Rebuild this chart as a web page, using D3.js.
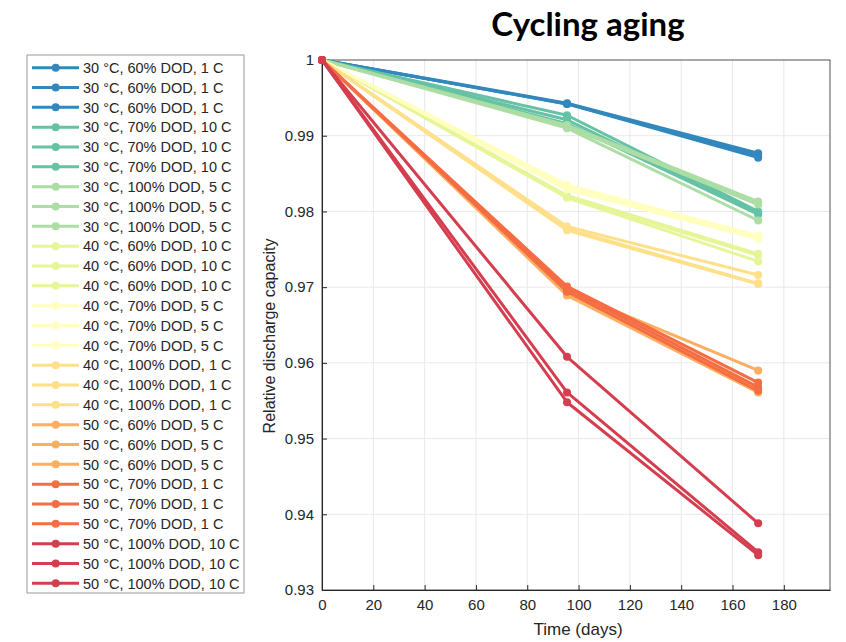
<!DOCTYPE html>
<html><head><meta charset="utf-8">
<script src="https://cdn.jsdelivr.net/npm/d3@7"></script>
<style>body{margin:0;background:#fff;}svg{display:block;}</style>
</head><body>
<svg id="c" width="846" height="642"></svg>
<script>
// ---- data ----
const days = [0, 95.5, 170];
const labels = [
  "30 °C, 60% DOD, 1 C","30 °C, 60% DOD, 1 C","30 °C, 60% DOD, 1 C",
  "30 °C, 70% DOD, 10 C","30 °C, 70% DOD, 10 C","30 °C, 70% DOD, 10 C",
  "30 °C, 100% DOD, 5 C","30 °C, 100% DOD, 5 C","30 °C, 100% DOD, 5 C",
  "40 °C, 60% DOD, 10 C","40 °C, 60% DOD, 10 C","40 °C, 60% DOD, 10 C",
  "40 °C, 70% DOD, 5 C","40 °C, 70% DOD, 5 C","40 °C, 70% DOD, 5 C",
  "40 °C, 100% DOD, 1 C","40 °C, 100% DOD, 1 C","40 °C, 100% DOD, 1 C",
  "50 °C, 60% DOD, 5 C","50 °C, 60% DOD, 5 C","50 °C, 60% DOD, 5 C",
  "50 °C, 70% DOD, 1 C","50 °C, 70% DOD, 1 C","50 °C, 70% DOD, 1 C",
  "50 °C, 100% DOD, 10 C","50 °C, 100% DOD, 10 C","50 °C, 100% DOD, 10 C"
];
const capacity = [
  [1, 0.9943, 0.9877],[1, 0.9942, 0.9874],[1, 0.9942, 0.9871],
  [1, 0.9927, 0.9800],[1, 0.9921, 0.9798],[1, 0.9916, 0.9796],
  [1, 0.9914, 0.9813],[1, 0.9912, 0.9809],[1, 0.9910, 0.9788],
  [1, 0.9821, 0.9744],[1, 0.9819, 0.9742],[1, 0.9818, 0.9734],
  [1, 0.9835, 0.9768],[1, 0.9832, 0.9766],[1, 0.9829, 0.9764],
  [1, 0.9780, 0.9716],[1, 0.9777, 0.9705],[1, 0.9775, 0.9704],
  [1, 0.9695, 0.9590],[1, 0.9691, 0.9565],[1, 0.9689, 0.9561],
  [1, 0.9701, 0.9574],[1, 0.9698, 0.9568],[1, 0.9694, 0.9563],
  [1, 0.9608, 0.9388],[1, 0.9561, 0.9350],[1, 0.9548, 0.9346]
];
const groupColors = ["#3288bd","#66c2a5","#abdda4","#e6f598","#ffffbf","#fee08b","#fdae61","#f46d43","#d53e4f"];
const xTicks = [0,20,40,60,80,100,120,140,160,180];
const yTicks = [0.93,0.94,0.95,0.96,0.97,0.98,0.99,1];

// ---- layout ----
const svg = d3.select("#c");
const L = 322, R = 830, T = 60, B = 590;
const x = d3.scaleLinear().domain([0, 198]).range([L, R]);
const y = d3.scaleLinear().domain([0.93, 1]).range([B, T]);
const font = "'Liberation Sans', Arial, sans-serif";
const ink = "#262626";

// grid
svg.append("g").selectAll("line").data(xTicks.slice(1)).join("line")
  .attr("x1", d => x(d)).attr("x2", d => x(d)).attr("y1", T).attr("y2", B)
  .attr("stroke", "#e8e8e8").attr("stroke-width", 1);
svg.append("g").selectAll("line").data(yTicks.slice(1, -1)).join("line")
  .attr("x1", L).attr("x2", R).attr("y1", d => y(d)).attr("y2", d => y(d))
  .attr("stroke", "#e8e8e8").attr("stroke-width", 1);

// box
svg.append("rect").attr("x", L).attr("y", T).attr("width", R - L).attr("height", B - T)
  .attr("fill", "none").attr("stroke", ink).attr("stroke-width", 0.8);

// axes
const xAxis = svg.append("g").attr("transform", `translate(0,${B})`)
  .call(d3.axisBottom(x).tickValues(xTicks).tickSizeInner(-5).tickSizeOuter(0).tickPadding(9));
const yAxis = svg.append("g").attr("transform", `translate(${L},0)`)
  .call(d3.axisLeft(y).tickValues(yTicks).tickFormat(d => d3.format("~g")(d)).tickSizeInner(-5).tickSizeOuter(0).tickPadding(8));
[xAxis, yAxis].forEach(g => {
  g.select(".domain").attr("stroke", ink);
  g.selectAll(".tick line").attr("stroke", ink);
  g.selectAll(".tick text").attr("fill", ink).style("font-family", font).style("font-size", "15px");
});

// lines
const line = d3.line().x((d, i) => x(days[i])).y(d => y(d));
const series = capacity.map((v, i) => ({ v, label: labels[i], color: groupColors[Math.floor(i / 3)] }));
const sg = svg.append("g");
series.forEach(s => {
  const g = sg.append("g");
  g.append("path").attr("d", line(s.v)).attr("fill", "none")
    .attr("stroke", s.color).attr("stroke-width", 3).attr("stroke-linejoin", "round");
  g.selectAll("circle").data(s.v).join("circle")
    .attr("cx", (d, i) => x(days[i])).attr("cy", d => y(d)).attr("r", 4).attr("fill", s.color);
});

// labels
svg.append("text").attr("x", 578).attr("y", 635).attr("text-anchor", "middle")
  .attr("fill", ink).style("font-family", font).style("font-size", "17px").text("Time (days)");
svg.append("text").attr("transform", `translate(275,${(T + B) / 2 + 11}) rotate(-90)`).attr("text-anchor", "middle")
  .attr("fill", ink).style("font-family", font).style("font-size", "16px").text("Relative discharge capacity");
svg.append("text").attr("x", 588).attr("y", 36).attr("text-anchor", "middle")
  .attr("fill", "#000").style("font-family", "Lato, 'Open Sans', sans-serif").style("font-weight", "bold")
  .style("font-size", "33px").text("Cycling aging");

// legend
const lg = svg.append("g");
lg.append("rect").attr("x", 27).attr("y", 55).attr("width", 217).attr("height", 538)
  .attr("fill", "#fff").attr("stroke", "#999").attr("stroke-width", 1);
const ly = d3.scaleLinear().domain([0, series.length - 1]).range([67.7, 583.3]);
series.forEach((s, i) => {
  const yy = ly(i);
  lg.append("line").attr("x1", 32).attr("x2", 79).attr("y1", yy).attr("y2", yy)
    .attr("stroke", s.color).attr("stroke-width", 3);
  lg.append("circle").attr("cx", 55.7).attr("cy", yy).attr("r", 4).attr("fill", s.color);
  lg.append("text").attr("x", 83).attr("y", yy).attr("dy", "0.36em").attr("fill", ink)
    .style("font-family", font).style("font-size", "14.5px").text(s.label);
});
</script>
</body></html>
